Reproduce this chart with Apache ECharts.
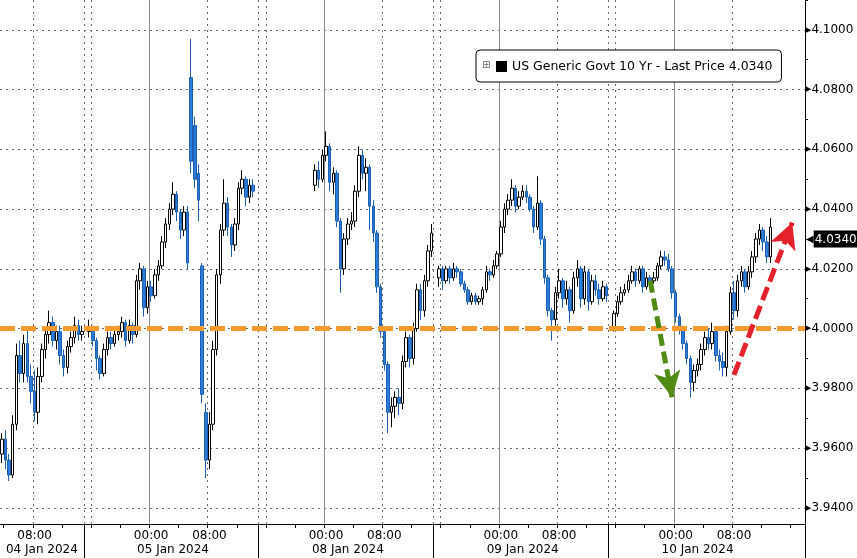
<!DOCTYPE html>
<html><head><meta charset="utf-8">
<script src="https://cdn.jsdelivr.net/npm/echarts@6/dist/echarts.min.js"></script>
<style>html,body{margin:0;padding:0;background:#fff}#c{width:857px;height:558px}</style>
</head><body><div id="c"></div>
<script>
// ---- timeline (30-minute bars, Bloomberg-style compressed axis) ----
const days = ['04 Jan 2024', '05 Jan 2024', '08 Jan 2024', '09 Jan 2024', '10 Jan 2024'];
const firstTime = '03:30';
const lastTime = '17:30';
const timeTickLabels = ['00:00', '08:00'];
const sessionBreaks = ['04 Jan 2024 15:00', '05 Jan 2024 15:00', '08 Jan 2024 15:00', '09 Jan 2024 15:00'];
const sessionResumes = ['04 Jan 2024 16:00', '05 Jan 2024 16:00', '08 Jan 2024 16:00', '09 Jan 2024 16:00'];
const lastBandEnd = '10 Jan 2024 15:00';

// ---- OHLC bars: [open, close, low, high], null = no trading ----
const sessionA = [
  [3.958,3.963,3.955,3.965],[3.963,3.956,3.953,3.966],[3.956,3.951,3.949,3.958],[3.951,3.968,3.950,3.971],
  [3.968,3.991,3.966,3.995],[3.991,3.985,3.982,3.996],[3.985,3.995,3.982,3.998],[3.995,3.984,3.982,4.000],
  [3.984,3.979,3.975,3.988],[3.979,3.972,3.969,3.986],[3.972,3.984,3.968,3.987],[3.984,3.993,3.982,3.995],
  [3.993,3.998,3.990,4.000],[3.998,4.002,3.995,4.006],[4.002,3.996,3.994,4.004],[3.996,3.999,3.993,4.001],
  [3.999,3.991,3.988,4.001],[3.991,3.987,3.984,3.993],[3.987,3.994,3.985,3.996],[3.994,3.997,3.992,3.999],
  [3.997,4.001,3.995,4.004],[4.001,3.998,3.996,4.003],[3.998,3.999,3.996,4.001],
  null
];
const sessionB = [
  [3.999,4.000,3.997,4.003],[4.000,3.996,3.994,4.001],[3.996,3.990,3.986,3.997],[3.990,3.985,3.983,3.991],
  [3.985,3.993,3.984,3.995],[3.993,3.997,3.991,3.999],[3.997,3.995,3.993,3.999],[3.995,3.998,3.994,4.000],
  [3.998,3.999,3.996,4.001],[3.999,4.002,3.997,4.004],[4.002,3.996,3.994,4.003],[3.996,4.001,3.995,4.003],
  [4.001,3.998,3.995,4.002],[3.998,4.016,3.997,4.018],[4.016,4.020,4.013,4.022],[4.020,4.007,4.004,4.021],
  [4.007,4.014,4.005,4.016],[4.014,4.011,4.009,4.016],[4.011,4.018,4.010,4.020],[4.018,4.021,4.016,4.023],
  [4.021,4.029,4.020,4.031],[4.029,4.035,4.027,4.037],[4.035,4.040,4.033,4.042],[4.040,4.045,4.038,4.049],
  [4.045,4.039,4.036,4.046],[4.039,4.033,4.030,4.040],[4.033,4.039,4.031,4.041],[4.039,4.022,4.020,4.041],
  [4.084,4.056,4.052,4.097],[4.068,4.050,4.047,4.071],[4.052,4.043,4.036,4.055],[4.021,3.978,3.975,4.022],
  [3.972,3.956,3.950,3.975],[3.956,3.968,3.953,3.972],[3.968,3.993,3.966,3.996],[3.993,4.018,3.991,4.020],
  [4.018,4.033,4.015,4.035],[4.033,4.042,4.031,4.050],[4.042,4.034,4.031,4.044],[4.034,4.028,4.024,4.035],
  [4.028,4.035,4.026,4.037],[4.035,4.047,4.033,4.049],[4.047,4.050,4.045,4.053],[4.050,4.044,4.041,4.051],
  [4.044,4.048,4.042,4.050],[4.048,4.046,4.044,4.050],
  null,null,null,null,null,null,null,null,null,null,null,null,null,null,null,null
];
const sessionC = [
  [4.048,4.053,4.046,4.055],[4.053,4.050,4.047,4.056],[4.050,4.058,4.049,4.060],[4.058,4.061,4.056,4.066],
  [4.061,4.049,4.046,4.062],[4.049,4.052,4.045,4.054],[4.052,4.036,4.034,4.053],[4.036,4.020,4.012,4.037],
  [4.020,4.030,4.018,4.032],[4.030,4.035,4.028,4.037],[4.035,4.036,4.033,4.039],[4.036,4.046,4.034,4.048],
  [4.046,4.058,4.044,4.061],[4.058,4.052,4.050,4.060],[4.052,4.054,4.046,4.057],[4.054,4.041,4.033,4.055],
  [4.041,4.032,4.029,4.043],[4.032,4.014,4.012,4.033],[4.014,3.999,3.997,4.015],[3.999,3.988,3.986,4.000],
  [3.988,3.972,3.965,3.989],[3.972,3.974,3.967,3.977],[3.974,3.977,3.970,3.979],[3.977,3.975,3.971,3.980],
  [3.975,3.989,3.973,3.991],[3.989,3.997,3.987,3.999],[3.997,3.990,3.987,3.998],[3.990,4.000,3.988,4.002],
  [4.000,4.013,3.999,4.015],[4.013,4.006,4.003,4.015],[4.006,4.016,4.004,4.018],[4.016,4.026,4.014,4.028],
  [4.026,4.032,4.024,4.035],
  null
];
const sessionD = [
  [4.017,4.020,4.014,4.021],[4.020,4.016,4.013,4.021],[4.016,4.020,4.015,4.021],[4.020,4.017,4.015,4.021],
  [4.017,4.020,4.016,4.022],[4.020,4.019,4.017,4.021],[4.019,4.015,4.014,4.020],[4.015,4.013,4.012,4.016],
  [4.013,4.009,4.008,4.014],[4.009,4.011,4.008,4.012],[4.011,4.009,4.008,4.012],[4.009,4.010,4.008,4.011],
  [4.010,4.013,4.008,4.014],[4.013,4.019,4.012,4.021],[4.019,4.018,4.016,4.020],[4.018,4.021,4.017,4.023],
  [4.021,4.025,4.020,4.026],[4.025,4.034,4.024,4.036],[4.034,4.040,4.032,4.042],[4.040,4.043,4.038,4.045],
  [4.043,4.047,4.041,4.050],[4.047,4.041,4.039,4.048],[4.041,4.044,4.040,4.046],[4.044,4.046,4.043,4.048],
  [4.046,4.044,4.042,4.048],[4.044,4.040,4.039,4.045],[4.040,4.034,4.032,4.041],[4.034,4.042,4.033,4.051],
  [4.042,4.030,4.028,4.043],[4.030,4.017,4.015,4.031],[4.017,4.006,4.004,4.018],[4.006,4.003,3.996,4.007],
  [4.003,4.012,4.001,4.014],[4.012,4.016,4.010,4.020],[4.016,4.010,4.007,4.017],[4.010,4.013,4.008,4.016],
  [4.013,4.006,4.002,4.014],[4.006,4.017,4.005,4.019],[4.017,4.020,4.014,4.023],[4.020,4.010,4.007,4.021],
  [4.010,4.019,4.008,4.021],[4.019,4.009,4.006,4.020],[4.009,4.016,4.008,4.018],[4.016,4.013,4.011,4.018],
  [4.013,4.010,4.008,4.015],[4.010,4.014,4.009,4.016],[4.014,4.011,4.009,4.015],
  null
];
const sessionE = [
  [4.000,4.005,3.999,4.006],[4.005,4.009,4.004,4.011],[4.009,4.012,4.008,4.014],[4.012,4.013,4.011,4.015],
  [4.013,4.016,4.012,4.018],[4.016,4.019,4.015,4.021],[4.019,4.016,4.014,4.020],[4.016,4.020,4.015,4.021],
  [4.020,4.014,4.012,4.021],[4.014,4.017,4.013,4.019],[4.017,4.016,4.015,4.018],[4.016,4.017,4.015,4.019],
  [4.017,4.021,4.016,4.022],[4.021,4.024,4.020,4.026],[4.024,4.023,4.021,4.026],[4.023,4.020,4.019,4.025],
  [4.020,4.012,4.010,4.021],[4.012,4.004,4.002,4.013],[4.004,4.000,3.998,4.005],[4.000,3.995,3.993,4.001],
  [3.995,3.990,3.988,3.996],[3.990,3.982,3.977,3.991],[3.982,3.986,3.979,3.988],[3.986,3.988,3.984,3.990],
  [3.988,3.993,3.986,3.995],[3.993,3.997,3.991,3.999],[3.997,3.995,3.993,4.000],[3.995,3.999,3.993,4.002],
  [3.999,3.991,3.989,4.000],[3.991,3.989,3.986,3.993],[3.989,3.987,3.984,3.992],[3.987,3.999,3.984,4.001],
  [3.999,4.012,3.998,4.014],[4.012,4.006,4.003,4.016],[4.006,4.016,4.004,4.018],[4.016,4.019,4.014,4.021],
  [4.019,4.014,4.012,4.020],[4.014,4.019,4.013,4.021],[4.019,4.024,4.017,4.026],[4.024,4.030,4.022,4.032],
  [4.030,4.033,4.028,4.035],[4.033,4.029,4.026,4.034],[4.029,4.024,4.022,4.031],[4.024,4.034,4.022,4.037],
  null,null,null,null,null,null,null,null,null
];

// ---- annotations ----
const referenceLevel = 4.0;
const greenArrow = [['09 Jan 2024 20:30', 4.0160], ['09 Jan 2024 23:30', 3.9770]];
const redArrow = [['10 Jan 2024 08:00', 3.9845], ['10 Jan 2024 16:00', 4.0355]];
const seriesLabel = 'US Generic Govt 10 Yr - Last Price';

// ---- build ----
const categories = [];
days.forEach((d, di) => {
  for (let k = 0; k < 48; k++) {
    const t = String(Math.floor(k / 2)).padStart(2, '0') + ':' + (k % 2 ? '30' : '00');
    if (di === 0 && t < firstTime) continue;
    if (di === days.length - 1 && t > lastTime) continue;
    categories.push(d + ' ' + t);
  }
});
const bars = [].concat(sessionA, sessionB, sessionC, sessionD, sessionE);
const ohlc = bars.map(r => r ? r : '-');
let lastPrice = null;
bars.forEach(r => { if (r) lastPrice = r[1]; });
const legendName = seriesLabel + ' ' + lastPrice.toFixed(4);

const timeOf = c => c.slice(12);
const breakIdx = sessionBreaks.map(b => categories.indexOf(b));
const bandEdges = [0].concat(breakIdx, [categories.indexOf(lastBandEnd)]);
const dateLabelIdx = new Set();
for (let i = 0; i < bandEdges.length - 1; i++) dateLabelIdx.add(Math.floor((bandEdges[i] + bandEdges[i + 1]) / 2));
const dottedSet = new Set(sessionBreaks.concat(sessionResumes));

const FONT = 'DejaVu Sans';
const chart = echarts.init(document.getElementById('c'), null, {renderer: 'canvas'});
chart.setOption({
  animation: false,
  backgroundColor: '#ffffff',
  textStyle: {fontFamily: FONT},
  grid: {left: 0, right: 52, top: 0, bottom: 34},
  legend: {
    left: 476, top: 50,
    padding: [10, 9, 9, 20],
    borderColor: '#000', borderWidth: 1, borderRadius: 4,
    backgroundColor: '#fff',
    itemWidth: 11, itemHeight: 11, itemGap: 5,
    icon: 'rect',
    textStyle: {fontFamily: FONT, fontSize: 12.5, color: '#000'},
    data: [{name: legendName, icon: 'rect', itemStyle: {color: '#000', borderWidth: 0}}]
  },
  graphic: [{type: 'text', left: 482, top: 60, z: 100, zlevel: 0,
    style: {text: '\u229E', font: '10px DejaVu Sans', fill: '#666'}}],
  xAxis: [{
    type: 'category', data: categories, boundaryGap: true,
    axisLine: {show: true, lineStyle: {color: '#000', width: 1}},
    axisTick: {show: true, length: 4, lineStyle: {color: '#000'},
      interval: (i, v) => { const t = timeOf(v); return t.endsWith(':00') && parseInt(t) % 4 === 0; }},
    axisLabel: {show: true, color: '#000', fontFamily: FONT, fontSize: 12, margin: 6,
      interval: (i, v) => timeTickLabels.includes(timeOf(v)),
      formatter: v => timeOf(v)},
    splitLine: {show: true, lineStyle: {color: '#8a8a8a', width: 1, type: 'solid'},
      interval: (i, v) => timeOf(v) === '00:00'}
  }, {
    type: 'category', data: categories, boundaryGap: true, position: 'bottom',
    axisLine: {show: false},
    axisTick: {show: true, length: 34, lineStyle: {color: '#000', width: 1},
      interval: (i, v) => sessionBreaks.includes(v)},
    axisLabel: {show: true, color: '#000', fontFamily: FONT, fontSize: 12, margin: 20,
      interval: (i) => dateLabelIdx.has(i),
      formatter: v => v.slice(0, 11)},
    splitLine: {show: true, lineStyle: {color: '#6a6a6a', width: 1, type: [2, 4]},
      interval: (i, v) => dottedSet.has(v) || timeOf(v) === '08:00'}
  }],
  yAxis: {
    type: 'value', position: 'right', min: 3.9346, max: 4.1100, splitNumber: 8, scale: true,
    axisLine: {show: true, lineStyle: {color: '#000', width: 1}},
    axisTick: {show: false},
    minorTick: {show: true, splitNumber: 2, length: 3, lineStyle: {color: '#000'}},
    axisLabel: {show: true, showMinLabel: false, showMaxLabel: false, margin: 1,
      formatter: v => '{t|\u25B6}{v|' + v.toFixed(4) + '}',
      rich: {t: {fontSize: 7, color: '#000', fontFamily: FONT}, v: {fontSize: 12, color: '#000', fontFamily: FONT}}},
    splitLine: {show: true, showMinLine: false, showMaxLine: false, lineStyle: {color: '#6a6a6a', width: 1, type: [2, 4]}}
  },
  series: [{
    name: legendName,
    type: 'candlestick',
    xAxisIndex: 0,
    data: ohlc,
    barWidth: 3,
    itemStyle: {color: '#ffffff', borderColor: '#000000', color0: '#2b7bd8', borderColor0: '#1f5fb0', borderWidth: 1},
    markLine: {
      silent: true, symbol: ['none', 'none'], animation: false,
      data: [
        {yAxis: referenceLevel, lineStyle: {color: '#f39b2e', width: 5, type: [15, 6]}, label: {show: false}},
        [{coord: greenArrow[0], symbol: 'none'}, {coord: greenArrow[1], symbol: 'arrow', symbolSize: [20, 26],
          lineStyle: {color: '#4f8a12', width: 5, type: [12, 6]}, label: {show: false}}],
        [{coord: redArrow[0], symbol: 'none'}, {coord: redArrow[1], symbol: 'arrow', symbolSize: [20, 26],
          lineStyle: {color: '#e4222c', width: 5, type: [14, 6]}, label: {show: false}}]
      ]
    }
  }, {
    name: 'lastPriceTag',
    type: 'line',
    data: [],
    markLine: {
      silent: true, symbol: ['none', 'none'], animation: false,
      lineStyle: {color: 'rgba(255,255,255,0)', width: 1},
      data: [{yAxis: lastPrice,
        label: {show: true, position: 'end', distance: 1, opacity: 1,
          formatter: '{a|\u25C0}{b|' + lastPrice.toFixed(4) + '}',
          rich: {
            a: {color: '#000', fontSize: 10, fontFamily: FONT, padding: [0, 0, 0, 0]},
            b: {color: '#fff', backgroundColor: '#000', fontSize: 12, fontFamily: FONT, padding: [3, 2, 2, 1]}
          }}}]
    }
  }]
});
</script></body></html>
